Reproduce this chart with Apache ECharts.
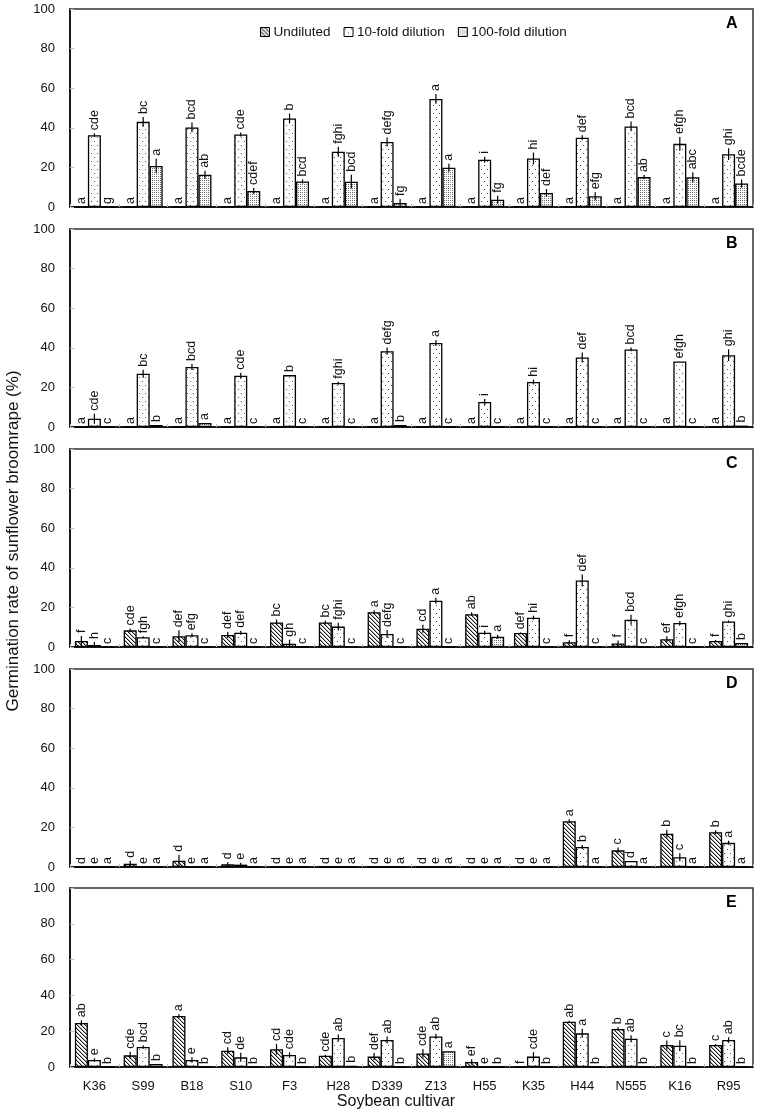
<!DOCTYPE html>
<html><head><meta charset="utf-8">
<script src="https://cdn.jsdelivr.net/npm/echarts@6/dist/echarts.min.js"></script>
<style>html,body{margin:0;padding:0;background:#fff}#c{width:758px;height:1114px}</style>
</head><body><div id="c"></div>
<script>
const categories = ['K36','S99','B18','S10','F3','H28','D339','Z13','H55','K35','H44','N555','K16','R95'];
const seriesNames = ['Undiluted','10-fold dilution','100-fold dilution'];
const panelLabels = ['A','B','C','D','E'];
const yMin = 0, yMax = 100, yStep = 20;

// Panel A
const A_undiluted      = [0,0,0,0,0,0,0,0,0,0,0,0,0,0];
const A_undilutedErr   = [0,0,0,0,0,0,0,0,0,0,0,0,0,0];
const A_undilutedLet   = ['a','a','a','a','a','a','a','a','a','a','a','a','a','a'];
const A_tenfold        = [36.3,43.0,40.2,36.6,44.7,27.9,32.8,54.6,23.9,24.5,35.0,40.7,31.9,26.7];
const A_tenfoldErr     = [1.0,2.5,2.5,1.0,2.5,2.5,2.3,2.5,1.5,3.0,1.2,2.5,3.5,3.0];
const A_tenfoldLet     = ['cde','bc','bcd','cde','b','fghi','defg','a','i','hi','def','bcd','efgh','ghi'];
const A_hundredfold    = [0,20.7,16.3,8.1,12.9,12.8,2.0,19.8,3.7,7.1,5.4,15.1,15.0,11.9];
const A_hundredfoldErr = [0,3.7,2.0,1.5,1.0,3.5,2.0,2.0,2.0,2.0,2.0,1.0,2.5,2.0];
const A_hundredfoldLet = ['g','a','ab','cdef','bcd','bcd','fg','a','fg','def','efg','ab','abc','bcde'];

// Panel B
const B_undiluted      = [0,0,0,0,0,0,0,0,0,0,0,0,0,0];
const B_undilutedErr   = [0,0,0,0,0,0,0,0,0,0,0,0,0,0];
const B_undilutedLet   = ['a','a','a','a','a','a','a','a','a','a','a','a','a','a'];
const B_tenfold        = [4.2,26.9,30.3,25.9,26.2,22.2,38.3,42.4,12.6,22.7,35.1,39.2,33.1,36.3];
const B_tenfoldErr     = [2.5,2.0,1.5,1.5,0,0.7,1.8,1.5,1.5,1.2,2.5,1.0,0,3.0];
const B_tenfoldLet     = ['cde','bc','bcd','cde','b','fghi','defg','a','i','hi','def','bcd','efgh','ghi'];
const B_hundredfold    = [0,1.0,2.0,0,0,0,1.0,0,0,0,0,0,0,0.7];
const B_hundredfoldErr = [0,0,0,0,0,0,0,0,0,0,0,0,0,0];
const B_hundredfoldLet = ['c','b','a','c','c','c','b','c','c','c','c','c','c','b'];

// Panel C
const C_undiluted      = [3.0,8.4,5.4,6.1,12.4,12.4,17.6,9.2,16.6,7.1,2.4,1.8,3.9,3.0];
const C_undilutedErr   = [2.5,1.0,3.0,1.5,1.5,1.0,1.0,2.0,1.0,0.3,1.0,1.5,1.5,0.5];
const C_undilutedLet   = ['f','cde','def','def','bc','bc','a','cd','ab','def','f','f','ef','f'];
const C_tenfold        = [1.0,4.9,5.9,7.2,1.7,10.3,6.6,23.4,7.2,14.8,33.6,13.8,12.1,12.9];
const C_tenfoldErr     = [1.5,0.5,1.0,1.0,2.0,2.0,2.0,1.5,1.0,1.0,3.0,2.5,1.0,0.5];
const C_tenfoldLet     = ['h','fgh','efg','def','gh','fghi','defg','a','i','hi','def','bcd','efgh','ghi'];
const C_hundredfold    = [0,0,0,0,0,0,0,0,5.2,0,0,0,0,2.0];
const C_hundredfoldErr = [0,0,0,0,0,0,0,0,1.0,0,0,0,0,0];
const C_hundredfoldLet = ['c','c','c','c','c','c','c','c','a','c','c','c','c','b'];

// Panel D
const D_undiluted      = [0,1.7,3.2,1.4,0,0,0,0,0,0,23.1,8.4,16.8,17.6];
const D_undilutedErr   = [0,1.5,3.0,1.0,0,0,0,0,0,0,1.0,1.5,2.0,1.0];
const D_undilutedLet   = ['d','d','d','d','d','d','d','d','d','d','a','c','b','b'];
const D_tenfold        = [0,0,0,1.2,0,0,0,0,0,0,10.1,3.0,4.9,12.2];
const D_tenfoldErr     = [0,0,0,1.0,0,0,0,0,0,0,1.0,0,2.0,1.0];
const D_tenfoldLet     = ['e','e','e','e','e','e','e','e','e','e','b','d','c','a'];
const D_hundredfold    = [0,0,0,0,0,0,0,0,0,0,0,0,0,0];
const D_hundredfoldErr = [0,0,0,0,0,0,0,0,0,0,0,0,0,0];
const D_hundredfoldLet = ['a','a','a','a','a','a','a','a','a','a','a','a','a','a'];

// Panel E
const E_undiluted      = [24.6,6.5,28.5,9.1,9.9,6.3,5.8,7.6,2.8,0,25.3,21.2,12.3,12.3];
const E_undilutedErr   = [1.5,2.0,1.0,2.0,3.0,0.5,2.0,2.5,1.5,0,0.5,1.0,2.5,0.5];
const E_undilutedLet   = ['ab','cde','a','cd','cd','cde','def','cde','ef','f','ab','b','c','c'];
const E_tenfold        = [3.9,11.2,3.9,5.4,6.7,16.2,15.1,17.1,0,5.8,18.8,15.8,11.9,15.1];
const E_tenfoldErr     = [1.0,1.0,1.5,2.5,1.5,2.0,2.0,1.5,0,2.5,2.5,2.0,3.0,1.5];
const E_tenfoldLet     = ['e','bcd','e','de','cde','ab','ab','ab','e','cde','a','ab','bc','ab'];
const E_hundredfold    = [0,1.7,0,0,0,0.7,0,8.8,0,0,0,0,0,0];
const E_hundredfoldErr = [0,0,0,0,0,0,0,0,0,0,0,0,0,0];
const E_hundredfoldLet = ['b','b','b','b','b','b','b','a','b','b','b','b','b','b'];

const panels = [
  {mean:[A_undiluted,A_tenfold,A_hundredfold], err:[A_undilutedErr,A_tenfoldErr,A_hundredfoldErr], let:[A_undilutedLet,A_tenfoldLet,A_hundredfoldLet]},
  {mean:[B_undiluted,B_tenfold,B_hundredfold], err:[B_undilutedErr,B_tenfoldErr,B_hundredfoldErr], let:[B_undilutedLet,B_tenfoldLet,B_hundredfoldLet]},
  {mean:[C_undiluted,C_tenfold,C_hundredfold], err:[C_undilutedErr,C_tenfoldErr,C_hundredfoldErr], let:[C_undilutedLet,C_tenfoldLet,C_hundredfoldLet]},
  {mean:[D_undiluted,D_tenfold,D_hundredfold], err:[D_undilutedErr,D_tenfoldErr,D_hundredfoldErr], let:[D_undilutedLet,D_tenfoldLet,D_hundredfoldLet]},
  {mean:[E_undiluted,E_tenfold,E_hundredfold], err:[E_undilutedErr,E_tenfoldErr,E_hundredfoldErr], let:[E_undilutedLet,E_tenfoldLet,E_hundredfoldLet]}
];

const FONT = '"Liberation Sans", Arial, Helvetica, sans-serif';
const gridTops = [9, 229, 449, 669, 888];
const gridHeights = [198, 198, 198, 198, 179];
const BAR_W = 13;

function makePattern(kind) {
  const c = document.createElement('canvas');
  const ctx = c.getContext('2d');
  if (kind === 0) {
    c.width = 4; c.height = 4;
    ctx.fillStyle = '#fff'; ctx.fillRect(0,0,4,4);
    ctx.fillStyle = '#1a1a1a';
    for (let i = 0; i < 4; i++) ctx.fillRect(i, i, 1, 1);
    ctx.fillStyle = 'rgba(30,30,30,0.35)';
    for (let i = 0; i < 4; i++) ctx.fillRect((i+1)%4, i, 1, 1);
  } else if (kind === 1) {
    c.width = 6; c.height = 8;
    ctx.fillStyle = '#fff'; ctx.fillRect(0,0,6,8);
    ctx.fillStyle = '#555';
    ctx.fillRect(1, 1, 1, 1);
    ctx.fillRect(4, 5, 1, 1);
  } else {
    c.width = 4; c.height = 4;
    ctx.fillStyle = '#fff'; ctx.fillRect(0,0,4,4);
    ctx.fillStyle = '#666';
    ctx.fillRect(0, 0, 1, 1);
    ctx.fillRect(2, 0, 1, 1);
    ctx.fillRect(0, 2, 1, 1);
    ctx.fillStyle = '#aaa';
    ctx.fillRect(2, 2, 1, 1);
  }
  return {image: c, repeat: 'repeat'};
}
const patterns = [makePattern(0), makePattern(1), makePattern(2)];

const grids = [], xAxes = [], yAxes = [], series = [], graphics = [];
panels.forEach((p, pi) => {
  const isLast = pi === panels.length - 1;
  grids.push({left: 70, right: 5, top: gridTops[pi], height: gridHeights[pi], show: true, borderColor: '#333', borderWidth: 1.5, backgroundColor: 'transparent'});
  xAxes.push({
    type: 'category', gridIndex: pi, data: categories, boundaryGap: true,
    axisLine: {show: true, lineStyle: {color: '#000', width: 1.5}},
    axisTick: {show: true, inside: true, length: 3, lineStyle: {color: '#bbb'}},
    axisLabel: {show: isLast, fontFamily: FONT, fontSize: 13, color: '#111', margin: 13}
  });
  yAxes.push({
    type: 'value', gridIndex: pi, min: yMin, max: yMax, interval: yStep,
    axisLine: {show: true, lineStyle: {color: '#000', width: 1.5}},
    axisTick: {show: true, inside: true, length: 4, lineStyle: {color: '#bbb'}},
    splitLine: {show: false},
    axisLabel: {fontFamily: FONT, fontSize: 13, color: '#111', margin: 15}
  });
  for (let s = 0; s < 3; s++) {
    series.push({
      type: 'bar', name: seriesNames[s], xAxisIndex: pi, yAxisIndex: pi,
      data: p.mean[s], barWidth: BAR_W, barGap: '0%',
      itemStyle: {color: patterns[s], borderColor: '#000', borderWidth: 1.3},
      emphasis: {disabled: true}, animation: false
    });
  }
  const eb = [], lets = [];
  for (let s = 0; s < 3; s++) {
    for (let i = 0; i < categories.length; i++) {
      eb.push([i, s, p.mean[s][i], p.err[s][i]]);
      lets.push(p.let[s][i]);
    }
  }
  series.push({
    type: 'custom', xAxisIndex: pi, yAxisIndex: pi, data: eb, z: 10, animation: false,
    encode: {x: 0, y: 2}, silent: true,
    renderItem: function (params, api) {
      const i = api.value(0), s = api.value(1), v = api.value(2), e = api.value(3);
      const c0 = api.coord([i, v]);
      const x = c0[0] + (s - 1) * BAR_W;
      const yTop = api.coord([i, v + e])[1];
      const yBot = api.coord([i, Math.max(0, v - e)])[1];
      const children = [];
      if (e > 0) {
        children.push({type: 'line', shape: {x1: x, y1: yTop, x2: x, y2: yBot}, style: {stroke: '#000', lineWidth: 1.2}});
      }
      children.push({type: 'text', x: x, y: yTop - 3, rotation: Math.PI / 2,
        style: {text: lets[params.dataIndex], fill: '#111', font: '12.5px ' + FONT, align: 'left', verticalAlign: 'middle'}});
      return {type: 'group', children: children};
    }
  });
  graphics.push({type: 'text', left: 726, top: gridTops[pi] + 7,
    style: {text: panelLabels[pi], font: 'bold 16px ' + FONT, fill: '#000'}});
});

graphics.push({type: 'text', x: 396, y: 1102,
  style: {text: 'Soybean cultivar', font: '16px ' + FONT, fill: '#111', align: 'center', verticalAlign: 'middle'}});
graphics.push({type: 'text', x: 13, y: 541, rotation: Math.PI / 2,
  style: {text: 'Germination rate of sunflower broomrape (%)', font: '17px ' + FONT, fill: '#111', align: 'center', verticalAlign: 'middle'}});

const chart = echarts.init(document.getElementById('c'), null, {renderer: 'canvas'});
chart.setOption({
  animation: false,
  backgroundColor: '#fff',
  grid: grids, xAxis: xAxes, yAxis: yAxes, series: series,
  legend: {
    data: seriesNames, left: 260, top: 25, padding: 0, itemWidth: 9, itemHeight: 9, itemGap: 13,
    selectedMode: false, icon: 'rect',
    itemStyle: {borderColor: '#000', borderWidth: 1},
    textStyle: {fontFamily: FONT, fontSize: 13.5, color: '#111', padding: [0, 0, 0, -1]}
  },
  graphic: graphics
});
</script>
</body></html>
